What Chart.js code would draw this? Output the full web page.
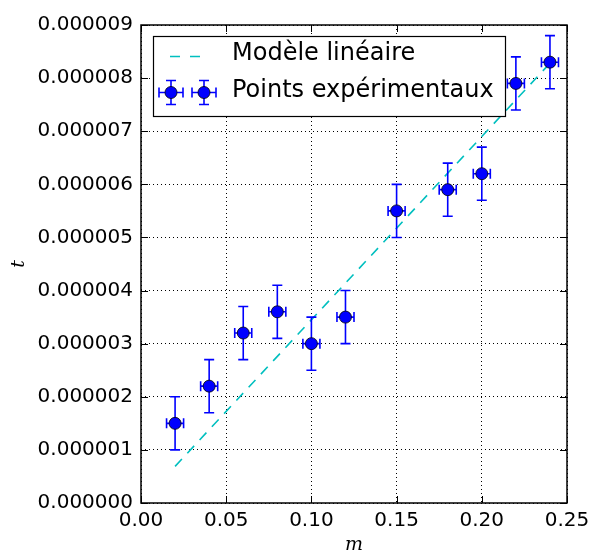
<!DOCTYPE html>
<html>
<head>
<meta charset="utf-8">
<script src="https://cdn.jsdelivr.net/npm/chart.js@4.4.0/dist/chart.umd.min.js"></script>
<style>
  html, body { margin: 0; padding: 0; background: #fff; }
  #wrap { width: 589px; height: 556px; }
</style>
</head>
<body>
<div id="wrap"><canvas id="errChart"></canvas></div>
<script>
// Experimental points
const mValues = [0.02, 0.04, 0.06, 0.08, 0.10, 0.12, 0.15, 0.18, 0.20, 0.22, 0.24];
const tValues = [1.5e-6, 2.2e-6, 3.2e-6, 3.6e-6, 3.0e-6, 3.5e-6, 5.5e-6, 5.9e-6, 6.2e-6, 7.9e-6, 8.3e-6];
const mErrors = [0.005, 0.005, 0.005, 0.005, 0.005, 0.005, 0.005, 0.005, 0.005, 0.005, 0.005];
const tErrors = [0.5e-6, 0.5e-6, 0.5e-6, 0.5e-6, 0.5e-6, 0.5e-6, 0.5e-6, 0.5e-6, 0.5e-6, 0.5e-6, 0.5e-6];

// Linear model
const modelM = [0.02, 0.24];
const modelT = [0.69e-6, 8.28e-6];

const legendLabels = ['Modèle linéaire', 'Points expérimentaux'];

const FONT = '"DejaVu Sans", sans-serif';
const BLUE = '#0000ff';
const CYAN = '#00bfbf';

function drawErrBar(ctx, px, py, x0, x1, y0, y1, cap) {
    ctx.beginPath();
    ctx.moveTo(x0, py); ctx.lineTo(x1, py);
    ctx.moveTo(px, y0); ctx.lineTo(px, y1);
    ctx.moveTo(x0, py - cap); ctx.lineTo(x0, py + cap);
    ctx.moveTo(x1, py - cap); ctx.lineTo(x1, py + cap);
    ctx.moveTo(px - cap, y0); ctx.lineTo(px + cap, y0);
    ctx.moveTo(px - cap, y1); ctx.lineTo(px + cap, y1);
    ctx.stroke();
}

function drawMarker(ctx, x, y) {
    ctx.beginPath();
    ctx.arc(x, y, 6, 0, Math.PI * 2);
    ctx.fillStyle = BLUE;
    ctx.fill();
    ctx.lineWidth = 0.8;
    ctx.strokeStyle = '#000';
    ctx.stroke();
}

const errorBars = {
    id: 'errorBars',
    afterDatasetDraw(chart, args) {
        if (args.index !== 1) return;
        const { ctx, scales: { x, y }, chartArea } = chart;
        ctx.save();
        ctx.beginPath();
        ctx.rect(chartArea.left, chartArea.top, chartArea.width, chartArea.height);
        ctx.clip();
        ctx.strokeStyle = BLUE;
        ctx.lineWidth = 1.6;
        mValues.forEach((m, i) => {
            drawErrBar(ctx,
                x.getPixelForValue(m), y.getPixelForValue(tValues[i]),
                x.getPixelForValue(m - mErrors[i]), x.getPixelForValue(m + mErrors[i]),
                y.getPixelForValue(tValues[i] + tErrors[i]), y.getPixelForValue(tValues[i] - tErrors[i]),
                5);
        });
        ctx.restore();
    }
};

const frameAndLegend = {
    id: 'frameAndLegend',
    afterDraw(chart) {
        const { ctx, chartArea: a, scales: { x, y } } = chart;
        ctx.save();
        // inward ticks on all four sides
        ctx.strokeStyle = '#000';
        ctx.lineWidth = 1;
        ctx.beginPath();
        x.ticks.forEach(t => {
            const px = Math.round(x.getPixelForValue(t.value)) + 0.5;
            ctx.moveTo(px, a.bottom); ctx.lineTo(px, a.bottom - 7);
            ctx.moveTo(px, a.top); ctx.lineTo(px, a.top + 7);
        });
        y.ticks.forEach(t => {
            const py = Math.round(y.getPixelForValue(t.value)) + 0.5;
            ctx.moveTo(a.left, py); ctx.lineTo(a.left + 7, py);
            ctx.moveTo(a.right, py); ctx.lineTo(a.right - 7, py);
        });
        ctx.stroke();
        // frame
        ctx.lineWidth = 1.5;
        ctx.strokeRect(a.left, a.top, a.right - a.left, a.bottom - a.top);

        // legend box
        const lx = 153, ly = 36, lw = 352, lh = 80;
        ctx.fillStyle = '#fff';
        ctx.fillRect(lx, ly, lw, lh);
        ctx.lineWidth = 1.2;
        ctx.strokeStyle = '#000';
        ctx.strokeRect(lx + 0.5, ly + 0.5, lw, lh);

        // row 1: dashed line
        ctx.strokeStyle = CYAN;
        ctx.lineWidth = 1.6;
        ctx.setLineDash([10, 10]);
        ctx.beginPath();
        ctx.moveTo(170, 56.5); ctx.lineTo(204, 56.5);
        ctx.stroke();
        ctx.setLineDash([]);

        // row 2: two markers with error bars
        [171, 204].forEach(cx => {
            ctx.strokeStyle = BLUE;
            ctx.lineWidth = 1.6;
            drawErrBar(ctx, cx, 92.5, cx - 12, cx + 12, 80.5, 104.5, 5);
            drawMarker(ctx, cx, 92.5);
        });

        ctx.fillStyle = '#000';
        ctx.font = '24px ' + FONT;
        ctx.textBaseline = 'middle';
        ctx.textAlign = 'left';
        ctx.fillText(legendLabels[0], 232, 54);
        ctx.fillText(legendLabels[1], 232, 91);
        ctx.restore();
    }
};

const ctx = document.getElementById('errChart').getContext('2d');
new Chart(ctx, {
    type: 'scatter',
    data: {
        datasets: [{
            label: legendLabels[1],
            data: mValues.map((m, i) => ({ x: m, y: tValues[i] })),
            pointRadius: 6,
            pointHoverRadius: 6,
            pointBackgroundColor: BLUE,
            pointBorderColor: '#000',
            pointBorderWidth: 0.8,
            showLine: false
        }, {
            label: legendLabels[0],
            type: 'line',
            data: modelM.map((m, i) => ({ x: m, y: modelT[i] })),
            borderColor: CYAN,
            borderWidth: 1.6,
            borderDash: [10, 8],
            pointRadius: 0,
            fill: false
        }]
    },
    options: {
        responsive: true,
        maintainAspectRatio: false,
        animation: false,
        layout: { padding: { left: 0, top: 25, right: 22, bottom: 0 } },
        plugins: { legend: { display: false }, tooltip: { enabled: false } },
        scales: {
            x: {
                type: 'linear',
                min: 0, max: 0.25,
                afterFit: s => { s.height = 53; s.paddingLeft = 0; s.paddingRight = 0; },
                ticks: {
                    stepSize: 0.05,
                    padding: 6,
                    color: '#000',
                    font: { family: FONT, size: 20 },
                    maxRotation: 0,
                    callback: v => v.toFixed(2)
                },
                grid: { color: '#000', lineWidth: 1, drawTicks: false },
                border: { display: false, dash: [1, 3] },
                title: {
                    display: true, text: 'm', color: '#000',
                    font: { family: '"DejaVu Serif", serif', size: 19, style: 'italic' },
                    padding: { top: 9, bottom: 0 }
                }
            },
            y: {
                type: 'linear',
                min: 0, max: 9e-6,
                afterFit: s => { s.width = 141; },
                ticks: {
                    stepSize: 1e-6,
                    padding: 8,
                    color: '#000',
                    font: { family: FONT, size: 20 },
                    callback: v => v.toFixed(6)
                },
                grid: { color: '#000', lineWidth: 1, drawTicks: false },
                border: { display: false, dash: [1, 3] },
                title: {
                    display: true, text: 't', color: '#000',
                    font: { family: '"DejaVu Serif", serif', size: 19, style: 'italic' },
                    padding: { top: 8, bottom: 0 }
                }
            }
        }
    },
    plugins: [errorBars, frameAndLegend]
});
</script>
</body>
</html>
